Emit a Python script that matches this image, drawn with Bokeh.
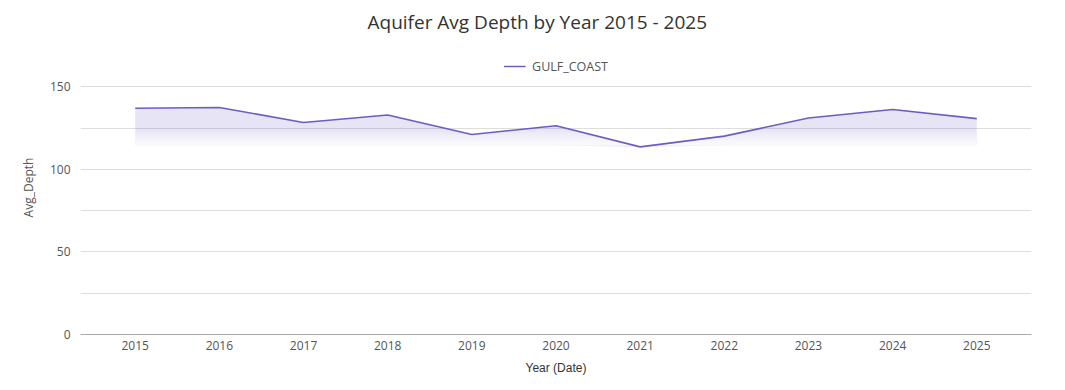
import numpy as np
from bokeh.plotting import figure
from bokeh.models import (Range1d, FixedTicker, Legend, LegendItem, Title)
from bokeh.embed import file_html
from bokeh.resources import INLINE

years = [2015, 2016, 2017, 2018, 2019, 2020, 2021, 2022, 2023, 2024, 2025]
avg_depth = [137.0, 137.4, 128.4, 132.9, 121.1, 126.4, 113.6, 120.1, 131.1, 136.2, 130.7]
series_name = "GULF_COAST"
title_text = "Aquifer Avg Depth by Year 2015 - 2025"
y_ticks = [0, 50, 100, 150]
y_minor = [25, 75, 125]

LINE = "#6a5fc1"
FONT = "Open Sans"

p = figure(width=1057, height=382, output_backend="svg", toolbar_location=None,
           x_range=Range1d(2014.35, 2025.65), y_range=Range1d(0, 178.0),
           min_border_left=80, min_border_right=26, min_border_bottom=48, min_border_top=0)
p.outline_line_color = None
p.background_fill_color = "white"

p.title = Title(text=title_text, align="left", text_font=FONT, text_font_size="19px",
                text_font_style="normal", text_color="#333333", standoff=12, offset=287)

vals = np.array(avg_depth, dtype=float)
xs = np.array(years, dtype=float)

# area under the line, down to a fade-out level
top_cut = 125.0
base = 114.5
p.varea(x=xs, y1=vals, y2=np.minimum(vals, base), fill_color=LINE, fill_alpha=0.17)
# white veils that make the lower part of the area fade out
n = 24
edges = np.linspace(top_cut, base, n + 1)
for i in range(n):
    hi, lo = edges[i], edges[i + 1]
    a = (i + 0.5) / n
    p.quad(left=xs[0], right=xs[-1], bottom=lo, top=hi,
           fill_color="white", fill_alpha=a, line_color=None)

r = p.line(xs, vals, line_color=LINE, line_width=1.6)

legend = Legend(items=[LegendItem(label=series_name, renderers=[r])],
                orientation="horizontal", location="top_center",
                border_line_color=None, background_fill_alpha=0,
                label_text_font=FONT, label_text_font_size="12.5px", label_text_color="#555555",
                glyph_width=22, label_standoff=7, margin=16, padding=2)
p.add_layout(legend, "center")

# axes
p.xaxis.ticker = FixedTicker(ticks=years)
p.xaxis.axis_label = "Year (Date)"
p.xaxis.axis_label_text_font = "Liberation Sans"
p.xaxis.axis_label_text_font_size = "12px"
p.xaxis.axis_label_text_font_style = "normal"
p.xaxis.axis_label_text_color = "#333333"
p.xaxis.axis_label_standoff = 8
p.xaxis.major_label_text_font = FONT
p.xaxis.major_label_text_font_size = "12px"
p.xaxis.major_label_text_color = "#555555"
p.xaxis.major_label_standoff = 6
p.xaxis.major_tick_out = 0
p.xaxis.minor_tick_out = 0
p.xaxis.axis_line_color = "#aaaaaa"
p.xaxis.major_tick_line_color = None
p.xaxis.minor_tick_line_color = None

p.yaxis.ticker = FixedTicker(ticks=y_ticks, minor_ticks=y_minor)
p.yaxis.axis_label = "Avg_Depth"
p.yaxis.axis_label_text_font = FONT
p.yaxis.axis_label_text_font_size = "12px"
p.yaxis.axis_label_text_font_style = "normal"
p.yaxis.axis_label_text_color = "#555555"
p.yaxis.axis_label_standoff = 10
p.yaxis.major_label_text_font = FONT
p.yaxis.major_label_text_font_size = "12px"
p.yaxis.major_label_text_color = "#555555"
p.yaxis.major_label_standoff = 10
p.yaxis.major_tick_out = 0
p.yaxis.minor_tick_out = 0
p.yaxis.axis_line_color = None
p.yaxis.major_tick_line_color = None
p.yaxis.minor_tick_line_color = None

p.xgrid.grid_line_color = None
p.ygrid.grid_line_color = "#dddddd"
p.ygrid.minor_grid_line_color = "#dddddd"

open("out.html", "w").write(file_html(p, INLINE))
